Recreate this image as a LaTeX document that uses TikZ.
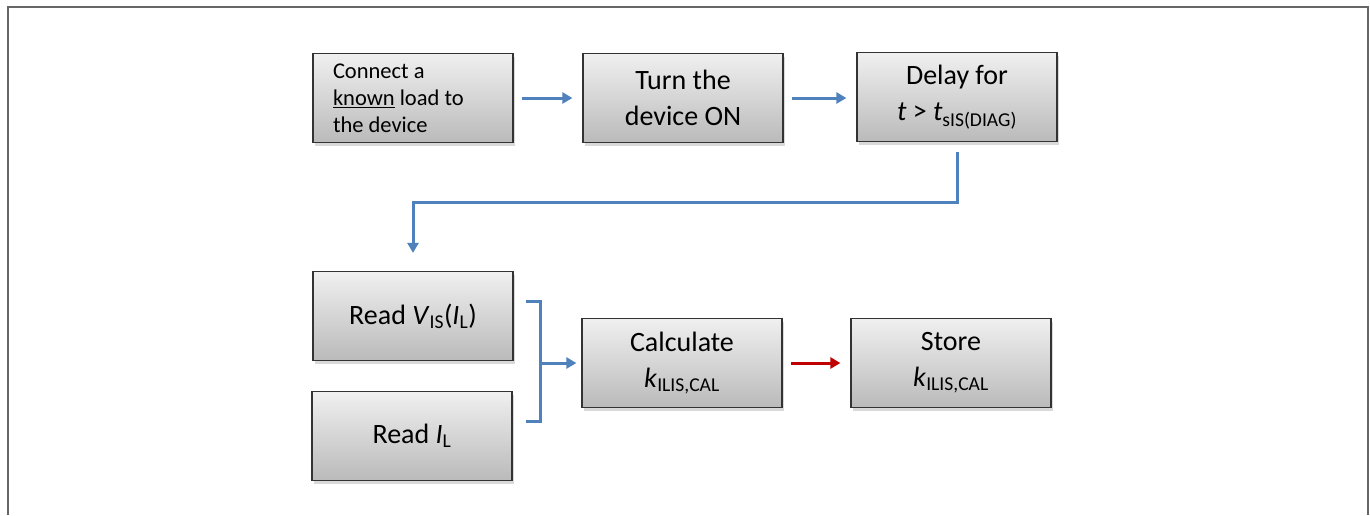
\documentclass[tikz,border=0pt]{standalone}
\usepackage{fontspec}
\setmainfont{Carlito}
\usetikzlibrary{arrows.meta,shadows}
\definecolor{flussoblu}{HTML}{4F81BD}
\definecolor{flussorosso}{HTML}{C00000}

\begin{document}
\begin{tikzpicture}
    [x=1pt,y=-1pt,
     blocco/.style={rectangle, draw=black!80, line width=1.2pt, top color=black!6, bottom color=black!27,
        minimum width=200pt, minimum height=89pt, inner sep=0pt, align=center,
        font=\fontsize{28}{36}\selectfont,
        drop shadow={shadow xshift=2pt, shadow yshift=-3pt, opacity=0.3}},
     freccia/.style={line width=3pt, flussoblu, -{Triangle[length=10pt,width=11pt]}}]
    \useasboundingbox (0,0) rectangle (1370,515);
    \draw[black!60, line width=1.2pt] (8,515) -- (8,7) -- (1368,7) -- (1368,515);

    \node[blocco, text width=160pt, align=flush left, font=\fontsize{22.5}{27}\selectfont] (connetti) at (413,98)
        {Connect a\\\underline{known} load to\\the device};
    \node[blocco] (accendi) at (683,98) {Turn the\\device ON};
    \node[blocco] (attesa) at (957,97) {Delay for\\\textit{t} > \textit{t}\textsubscript{sIS(DIAG)}};
    \node[blocco] (leggiv) at (413,316) {Read \textit{V}\textsubscript{IS}(\textit{I}\textsubscript{L})};
    \node[blocco] (leggii) at (412,436) {Read \textit{I}\textsubscript{L}};
    \node[blocco] (calcola) at (682,363) {Calculate\\\textit{k}\textsubscript{ILIS,CAL}};
    \node[blocco] (salva) at (951,363) {Store\\\textit{k}\textsubscript{ILIS,CAL}};

    \draw[freccia, shorten <=8pt, shorten >=10pt] (connetti) -- (accendi);
    \draw[freccia, shorten <=8pt, shorten >=10pt] (accendi.east) -- (accendi.east -| attesa.west);
    \draw[freccia, shorten >=18pt] ([yshift=-10pt]attesa.south) -- ++(0,50) -| (leggiv.north);

    \coordinate (grafsu) at (526,301);
    \coordinate (grafgiu) at (526,421);
    \coordinate (grafmezzo) at (540,363);
    \draw[line width=3pt, flussoblu] (grafsu) -- ++(14,0) -- ++(0,120) -- (grafgiu);
    \draw[freccia, shorten >=5pt] (grafmezzo) -- (calcola.west);

    \draw[freccia, flussorosso, shorten <=8pt, shorten >=10pt] (calcola) -- (salva);
\end{tikzpicture}
\end{document}
